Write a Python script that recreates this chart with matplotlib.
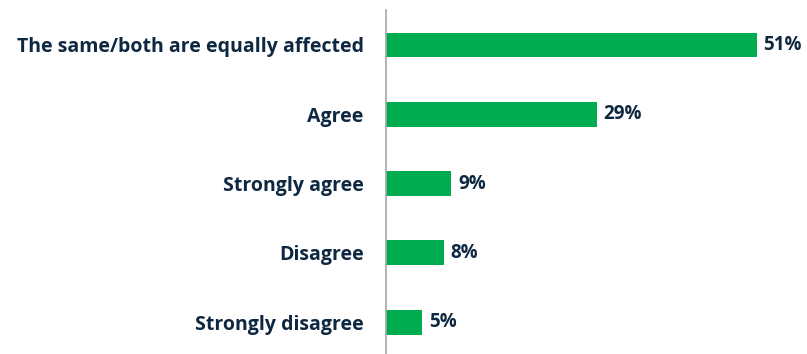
import matplotlib.pyplot as plt

# Survey responses, top to bottom
categories = ["The same/both are equally affected", "Agree", "Strongly agree",
              "Disagree", "Strongly disagree"]
values = [51, 29, 9, 8, 5]

bar_color = "#00AC50"
text_color = "#0E2841"

plt.rcParams['font.family'] = ['Open Sans', 'DejaVu Sans']

fig = plt.figure(figsize=(8.07, 3.54), dpi=100)
ax = fig.add_axes([386 / 807, 0, 421 / 807, 344 / 354])

pos = list(range(len(categories)))
ax.barh(pos, values, height=0.36, color=bar_color)

for y, v in zip(pos, values):
    ax.text(v + 0.9, y, f"{v}%", va='center', ha='left', fontsize=13.5,
            fontweight='bold', color=text_color)

ax.set_yticks(pos)
ax.set_yticklabels(categories, fontsize=14, fontweight='bold', color=text_color)
ax.tick_params(axis='y', length=0, pad=16)
ax.set_xticks([])
ax.set_xlim(0, 57.9)
ax.set_ylim(4.46, -0.505)

for side in ['top', 'right', 'bottom']:
    ax.spines[side].set_visible(False)
ax.spines['left'].set_color('#A6A6A6')
ax.spines['left'].set_linewidth(1.2)

fig.savefig('out.png', dpi=100)
